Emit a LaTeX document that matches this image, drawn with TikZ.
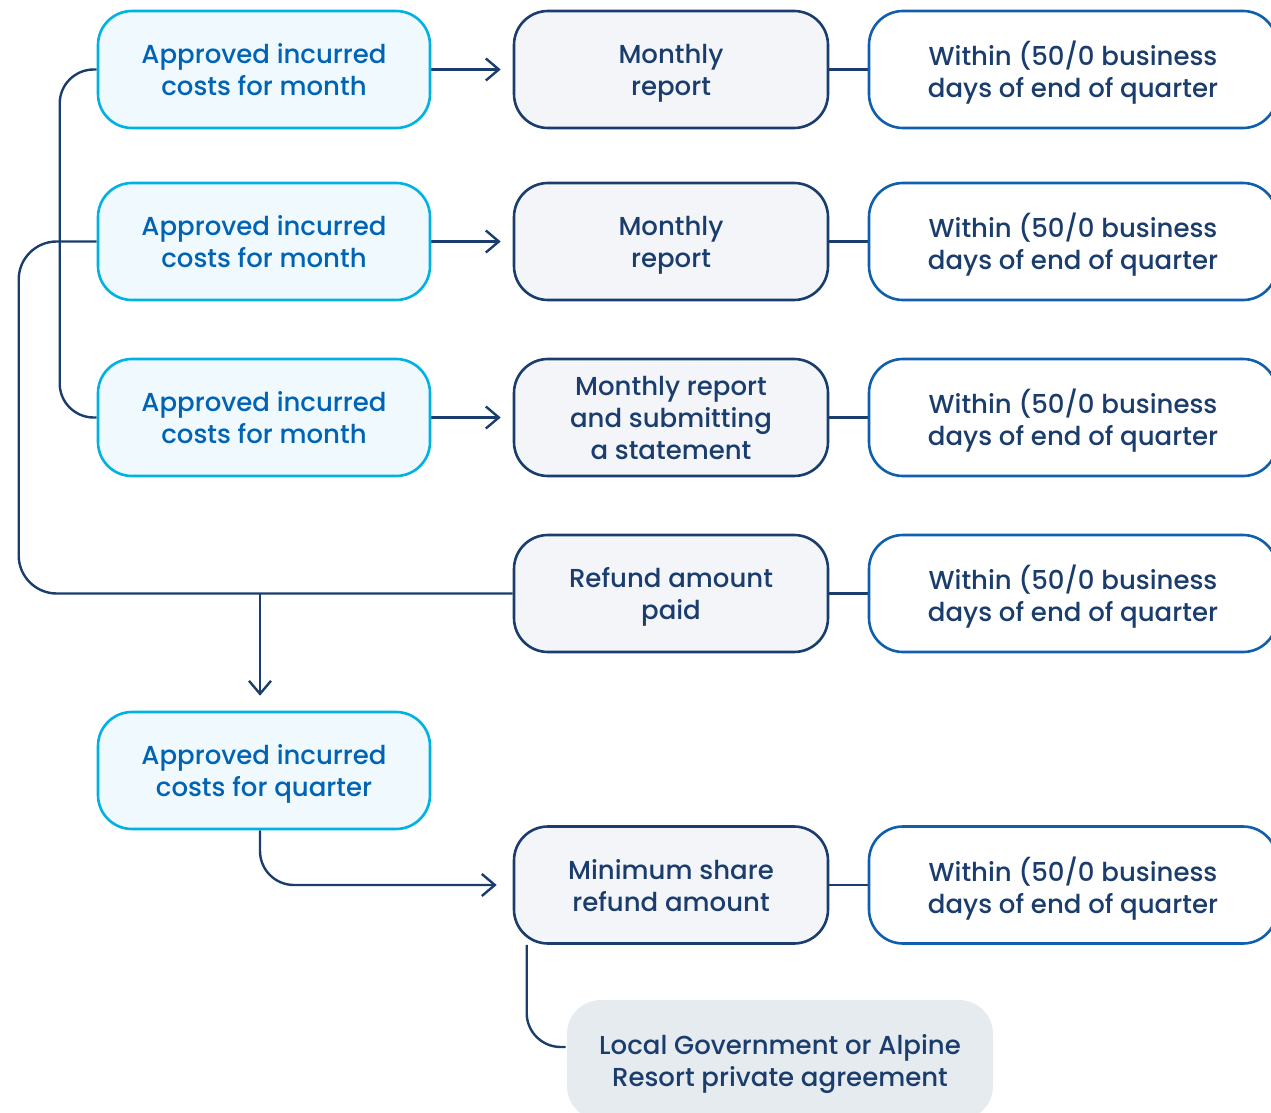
\documentclass[tikz,border=0pt]{standalone}
\usepackage{fontspec}
\setmainfont{Poppins Medium}
\usetikzlibrary{arrows.meta}
\usetikzlibrary{backgrounds}
\definecolor{cyanline}{HTML}{00B2E2}
\definecolor{cyanfill}{HTML}{F0F9FD}
\definecolor{cyantext}{HTML}{0063B4}
\definecolor{darkblue}{HTML}{1A3D6D}
\definecolor{greyfill}{HTML}{F3F5F9}
\definecolor{midblue}{HTML}{0F5FAE}
\definecolor{slatefill}{HTML}{E6EBF0}

\begin{document}
\begin{tikzpicture}[x=0.5pt,y=-0.5pt,
	box/.style={rounded corners=17pt, minimum height=58.5pt, inner ysep=0pt, align=center, line width=1.3pt, font=\fontsize{13}{16}\selectfont,
		text depth=0pt},
	costbox/.style={box, draw=cyanline, fill=cyanfill, text=cyantext, minimum width=166pt},
	reportbox/.style={box, draw=darkblue, fill=greyfill, text=darkblue, minimum width=157pt},
	duebox/.style={box, draw=midblue, fill=white, text=darkblue, minimum width=204pt},
	agreebox/.style={box, fill=slatefill, text=darkblue, minimum width=213pt, minimum height=60pt},
	link/.style={darkblue, line width=1.2pt},
	flow/.style={link, -{Straight Barb[length=6.5pt,width=11pt]}, shorten >=6pt}]
		\useasboundingbox (0,0) rectangle (1271,1113);
		% left column
		\node[costbox] (a1) at (264,69.5) {Approved incurred\\costs for month};
		\node[costbox] (a2) at (264,241.5) {Approved incurred\\costs for month};
		\node[costbox] (a3) at (264,417.5) {Approved incurred\\costs for month};
		\node[costbox] (aq) at (264,770.5) {Approved incurred\\costs for quarter};
		% middle column
		\node[reportbox] (m1) at (671,69.5) {Monthly\\report};
		\node[reportbox] (m2) at (671,241.5) {Monthly\\report};
		\node[reportbox] (m3) at (671,417.5) {Monthly report\\and submitting\\a statement};
		\node[reportbox] (ref) at (671,593.5) {Refund amount\\paid};
		\node[reportbox] (ms) at (671,885) {Minimum share\\refund amount};
		% right column
		\node[duebox] (w1) at (1073,69.5) {Within (50/0 business\\days of end of quarter};
		\node[duebox] (w2) at (1073,241.5) {Within (50/0 business\\days of end of quarter};
		\node[duebox] (w3) at (1073,417.5) {Within (50/0 business\\days of end of quarter};
		\node[duebox] (w4) at (1073,593.5) {Within (50/0 business\\days of end of quarter};
		\node[duebox] (w5) at (1073,885) {Within (50/0 business\\days of end of quarter};
		\node[agreebox] (lg) at (780,1060) {Local Government or Alpine\\Resort private agreement};
		\begin{scope}[on background layer]
			\draw[flow] (a1.east) -- (m1.west);
			\draw[flow] (a2.east) -- (m2.west);
			\draw[flow] (a3.east) -- (m3.west);
			\draw[link] (m1.east) -- (w1.west);
			\draw[link] (m2.east) -- (w2.west);
			\draw[link] (m3.east) -- (w3.west);
			\draw[link] (ref.east) -- (w4.west);
			\draw[link] (ms.east) -- (w5.west);
			\draw[link, rounded corners=17pt] (a1.west) -- ++(-37,0) |- (a3.west);
			\draw[link, rounded corners=19pt] (a2.west) -- ++(-78,0) |- (ref.west);
			\draw[flow, shorten >=7.5pt] ([xshift=-2pt]ref.west -| aq.north) -- ([xshift=-2pt]aq.north);
			\draw[flow, shorten >=8pt, rounded corners=17pt] ([xshift=-2pt]aq.south) |- (ms.west);
			\draw[link, rounded corners=17pt] ([xshift=7pt]ms.south west) |- ([yshift=6.5pt]lg.west);
		\end{scope}
\end{tikzpicture}
\end{document}
